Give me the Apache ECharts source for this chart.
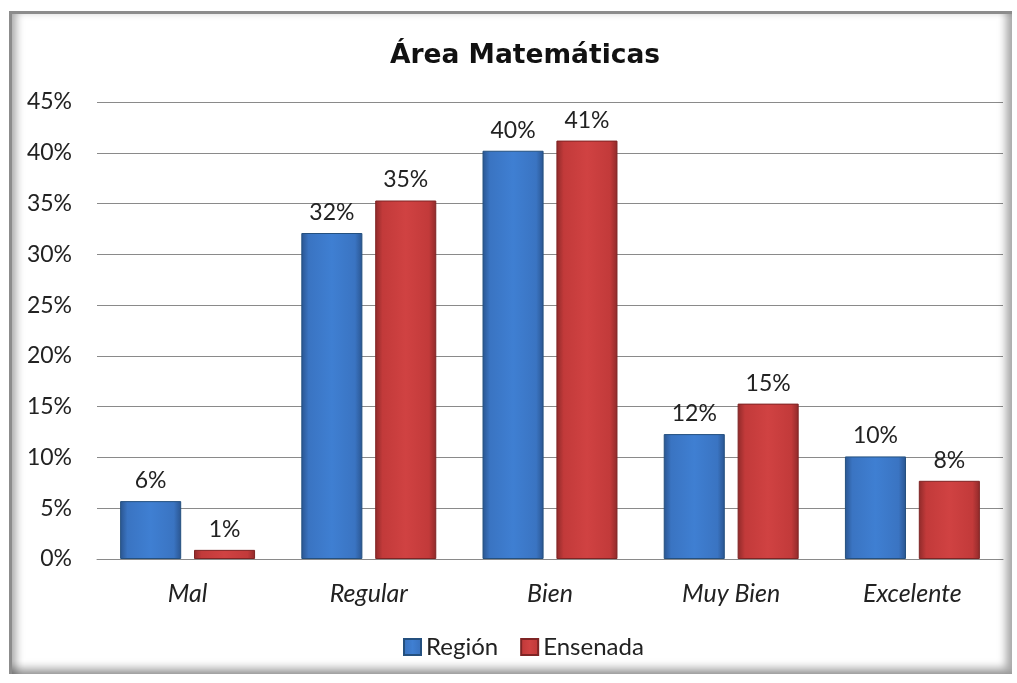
<!DOCTYPE html>
<html>
<head>
<meta charset="utf-8">
<script src="https://cdn.jsdelivr.net/npm/echarts@6/dist/echarts.min.js"></script>
<style>
html,body{margin:0;padding:0;background:#fff;}
#wrap{position:relative;width:1017px;height:683px;overflow:hidden;}
#chart{position:absolute;left:0;top:0;width:1017px;height:683px;}
#frame{position:absolute;left:9px;top:11px;width:1000px;height:660px;border-top:3px solid #8c8c8c;border-left:3px solid #8c8c8c;
box-shadow: inset 7px 0 8px -3px rgba(0,0,0,0.35), inset -9px -9px 9px -3px rgba(0,0,0,0.35);pointer-events:none;}
</style>
</head>
<body>
<div id="wrap"><div id="chart"></div><div id="frame"></div></div>
<script>
var categories = ['Mal', 'Regular', 'Bien', 'Muy Bien', 'Excelente'];
var seriesNames = ['Región', 'Ensenada'];
var region = [5.7, 32.1, 40.2, 12.3, 10.1];
var ensenada = [0.9, 35.3, 41.2, 15.3, 7.7];
var yTicks = [0, 5, 10, 15, 20, 25, 30, 35, 40, 45];

var FONT = 'Lato, "Open Sans", sans-serif';
function grad(dark, mid, light) {
  return new echarts.graphic.LinearGradient(0, 0, 1, 0, [
    {offset: 0, color: dark},
    {offset: 0.12, color: mid},
    {offset: 0.5, color: light},
    {offset: 0.88, color: mid},
    {offset: 1, color: dark}
  ]);
}
var blue = grad('#2a5590', '#3a74c2', '#3f7fd2');
var red = grad('#8f2a2a', '#c23a3a', '#d04242');

var chart = echarts.init(document.getElementById('chart'), null, {renderer: 'canvas'});
chart.setOption({
  backgroundColor: '#fff',
  animation: false,
  title: {
    text: 'Área Matemáticas',
    left: 520, top: 38, textAlign: 'center',
    textStyle: {fontFamily: '"DejaVu Sans", sans-serif', fontWeight: 'bold', fontSize: 26.5, color: '#111'}
  },
  legend: {
    data: seriesNames,
    bottom: 19, left: 398,
    itemWidth: 17, itemHeight: 16, itemGap: 22,
    icon: 'rect',
    textStyle: {fontFamily: FONT, fontSize: 24, color: '#222'}
  },
  grid: {left: 97, right: 14, top: 102, bottom: 124, containLabel: false},
  xAxis: {
    type: 'category', data: categories,
    axisLine: {lineStyle: {color: '#8a8a8a', width: 1}},
    axisTick: {show: false},
    axisLabel: {fontFamily: FONT, fontStyle: 'italic', fontSize: 25, color: '#222', margin: 22}
  },
  yAxis: {
    type: 'value', min: yTicks[0], max: yTicks[yTicks.length - 1], interval: 5,
    axisLine: {show: false}, axisTick: {show: false},
    splitLine: {lineStyle: {color: '#8a8a8a', width: 1}},
    axisLabel: {fontFamily: FONT, fontSize: 23, color: '#222', margin: 25, formatter: function (v) { return v + '%'; }}
  },
  series: [
    {
      name: seriesNames[0], type: 'bar', data: region,
      barWidth: '33.7%', barGap: '21%',
      itemStyle: {color: blue, borderColor: '#24507f', borderWidth: 1},
      label: {show: true, position: 'top', distance: 9, fontFamily: FONT, fontSize: 23, color: '#222',
        formatter: function (p) { return Math.round(p.value) + '%'; }}
    },
    {
      name: seriesNames[1], type: 'bar', data: ensenada,
      barWidth: '33.7%', barGap: '21%',
      itemStyle: {color: red, borderColor: '#7f2424', borderWidth: 1},
      label: {show: true, position: 'top', distance: 9, fontFamily: FONT, fontSize: 23, color: '#222',
        formatter: function (p) { return Math.round(p.value) + '%'; }}
    }
  ]
});
</script>
</body>
</html>
